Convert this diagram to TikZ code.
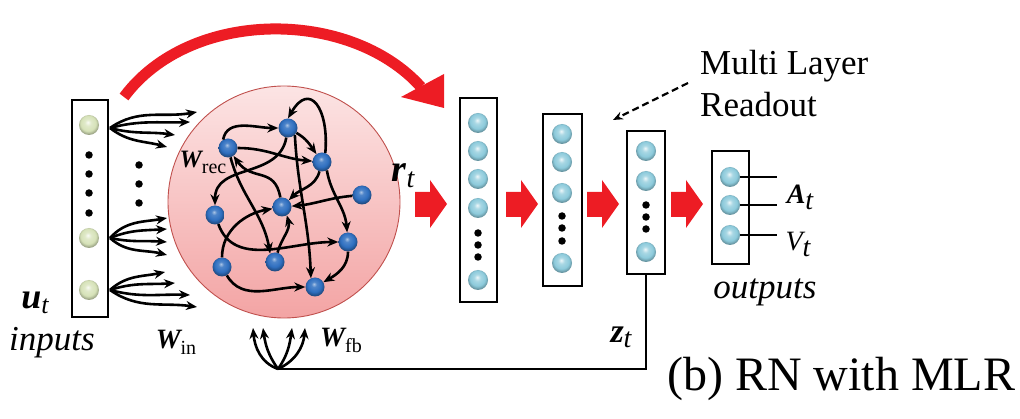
\documentclass[tikz,border=0pt]{standalone}
\usepackage{fontspec}
\setmainfont{Liberation Serif}
\usetikzlibrary{arrows.meta}
\definecolor{arrred}{HTML}{ED1C24}
\definecolor{gballc}{HTML}{D6E2B8}
\definecolor{cballc}{HTML}{8CCADB}
\definecolor{bballc}{HTML}{2F6FC0}
\definecolor{pinkT}{HTML}{FCE4E4}
\definecolor{pinkB}{HTML}{F3A4A4}
\definecolor{pinkE}{HTML}{C0504D}
\pgfdeclareradialshading{gball}{\pgfpoint{-3bp}{7bp}}{color(0bp)=(gballc!15!white); color(8bp)=(gballc!75!white); color(19bp)=(gballc); color(27bp)=(gballc!70!black); color(50bp)=(gballc!70!black)}
\pgfdeclareradialshading{cball}{\pgfpoint{-2bp}{7bp}}{color(0bp)=(cballc!15!white); color(8bp)=(cballc!75!white); color(19bp)=(cballc); color(27bp)=(cballc!70!black); color(50bp)=(cballc!70!black)}
\pgfdeclareradialshading{bball}{\pgfpoint{-3bp}{8bp}}{color(0bp)=(bballc!40!white); color(7bp)=(bballc!85!white); color(18bp)=(bballc); color(27bp)=(bballc!65!black); color(50bp)=(bballc!65!black)}
\newcommand{\sublbl}[5]{{\fontsize{#3}{#3}\selectfont\bfseries\itshape #1}\raisebox{#5}{\fontsize{#4}{#4}\selectfont\itshape #2}}
\newcommand{\wlbl}[3]{{\fontsize{#2}{#2}\selectfont\bfseries\itshape W}\raisebox{-6pt}{\fontsize{#3}{#3}\selectfont #1}}
\begin{document}
\begin{tikzpicture}[x=1pt,y=-1pt,
  lbox/.style={draw, line width=2.8pt, inner sep=0pt, fill=white},
  gnode/.style={circle, inner sep=0pt, minimum size=20pt, shading=gball},
  cnode/.style={circle, inner sep=0pt, minimum size=20pt, shading=cball},
  bnode/.style={circle, inner sep=0pt, minimum size=19pt, shading=bball},
  dotnode/.style={circle, fill=black, inner sep=0pt, minimum size=7.5pt},
  ed/.style={line width=2.6pt, -{Stealth[length=11pt,width=9pt]}},
  fan/.style={line width=2.6pt, -{Stealth[length=11pt,width=9pt]}},
  plain/.style={line width=2.8pt},
  txt/.style={inner sep=0pt}]
\useasboundingbox (0,0) rectangle (1020,419);

% big red curved arrow
\coordinate (bigA) at (124,97);
\coordinate (bigB) at (421,87);
\draw[arrred, line width=11pt] (bigA) .. controls (190,8) and (350,8) .. (bigB);
\fill[arrred] (444,74) -- (401,97) -- (444,108) -- cycle;

% reservoir
\node[circle, draw=pinkE, line width=0.9pt, top color=pinkT, bottom color=pinkB, minimum size=232pt, inner sep=0pt] (res) at (284,202) {};

% input box
\node[lbox, minimum width=36pt, minimum height=217pt] (inbox) at (90,208.5) {};
\node[gnode] (in1) at (89,125) {};
\node[gnode] (in2) at (89,238) {};
\node[gnode] (in3) at (89,290) {};
\foreach \y [count=\i] in {155,174,193,213} \node[dotnode] (ind\i) at (89,\y) {};
\foreach \y [count=\i] in {165,184,203} \node[dotnode] (md\i) at (139,\y) {};

% input fans
\coordinate (s1) at (110,128);
\coordinate (s2) at (110,238);
\coordinate (s3) at (110,290);
\foreach \ex/\ey/\o/\n [count=\i] in {197/112/35/190, 190/122/15/182, 175/135/-15/172, 167/147/-38/165}{
  \coordinate (e1\i) at (\ex,\ey);
  \draw[fan] (s1) to[out=\o,in=\n] (e1\i);}
\foreach \ex/\ey/\o/\n [count=\i] in {167/218/48/190, 167/229/22/184, 167/242/-12/176, 167/255/-42/166}{
  \coordinate (e2\i) at (\ex,\ey);
  \draw[fan] (s2) to[out=\o,in=\n] (e2\i);}
\foreach \ex/\ey/\o/\n [count=\i] in {165/272/42/192, 175/283/18/184, 190/295/-15/178, 197/307/-35/172}{
  \coordinate (e3\i) at (\ex,\ey);
  \draw[fan] (s3) to[out=\o,in=\n] (e3\i);}

% reservoir neurons
\node[bnode] (r1) at (228,148) {};
\node[bnode] (r2) at (288,128) {};
\node[bnode] (r3) at (322,162) {};
\node[bnode] (r4) at (215,215) {};
\node[bnode] (r5) at (282,207) {};
\node[bnode] (r6) at (362,195) {};
\node[bnode] (r7) at (348,242) {};
\node[bnode] (r8) at (222,267) {};
\node[bnode] (r9) at (275,262) {};
\node[bnode] (r10) at (315,287) {};

\draw[ed] (r1.120) to[out=80,in=180] (r2);
\draw[ed] (r1) to[out=0,in=175] (r3);
\draw[ed] (r2) to[out=-30,in=125] (r3);
\draw[ed] (r2) to[out=-100,in=90,looseness=1.1] (r4);
\draw[ed] (r3.70) to[out=85,in=60,looseness=2.2] (r2.north);
\draw[ed] (r2.-45) to[out=-87,in=92] (r10.115);
\draw[ed] (r3.-60) to[out=-80,in=95] (r7);
\draw[ed] (r3) to[out=-105,in=45] (r5);
\draw[ed] (r6) to[out=185,in=5] (r5);
\draw[ed] (r5) to[out=100,in=-55,looseness=1.3] (r1);
\draw[ed] (r1) to[out=-75,in=100] (r9.120);
\draw[ed] (r9) to[out=75,in=-75] (r5.-60);
\draw[ed] (r8) to[out=90,in=190] (r5);
\draw[ed] (r4) to[out=-70,in=180] (r7);
\draw[ed] (r8) to[out=-60,in=180] (r10);
\draw[ed] (r7) to[out=-90,in=30] (r10);

% block arrows
\foreach \dx [count=\i] in {0,91,172,256}{
  \fill[arrred, shift={(\dx,0)}] (415,192) -- (430,192) -- (430,180) -- (447,204) -- (430,228) -- (430,217) -- (415,217) -- cycle;}

% layer 1
\node[lbox, minimum width=37pt, minimum height=204pt] (L1) at (478.5,200) {};
\foreach \y [count=\i] in {123,151,179,208,280} \node[cnode] (a\i) at (478,\y) {};
\foreach \y [count=\i] in {233,245,257} \node[dotnode] (ad\i) at (478,\y) {};
% layer 2
\node[lbox, minimum width=39pt, minimum height=172pt] (L2) at (562.5,200) {};
\foreach \y [count=\i] in {134,162,193,263} \node[cnode] (b\i) at (562,\y) {};
\foreach \y [count=\i] in {216,228,241} \node[dotnode] (bd\i) at (562,\y) {};
% layer 3
\node[lbox, minimum width=38pt, minimum height=143pt] (L3) at (646,202.5) {};
\foreach \y [count=\i] in {151,181,252} \node[cnode] (c\i) at (646,\y) {};
\foreach \y [count=\i] in {205,217,229} \node[dotnode] (cd\i) at (646,\y) {};
% outputs
\node[lbox, minimum width=37pt, minimum height=113pt] (OB) at (730.5,207.5) {};
\node[cnode] (o1) at (730,177) {};
\node[cnode] (o2) at (730,205) {};
\node[cnode] (o3) at (730,235) {};
\coordinate (oe1) at (777,177);
\coordinate (oe2) at (777,205);
\coordinate (oe3) at (777,235);
\foreach \i in {1,2,3} \draw[line width=2.4pt] (o\i.east) -- (oe\i);

% feedback
\coordinate (fb) at (278,369);
\draw[plain] (L3.south) |- (fb);
\coordinate (t1) at (253,328);
\coordinate (t2) at (263,328);
\coordinate (t3) at (292,328);
\coordinate (t4) at (305,328);
\draw[fan] (fb) to[out=160,in=-85] (t1);
\draw[fan] (fb) to[out=125,in=-82] (t2);
\draw[fan] (fb) to[out=55,in=-98] (t3);
\draw[fan] (fb) to[out=25,in=-95] (t4);

% dashed pointer
\coordinate (mlrA) at (688,83);
\coordinate (mlrB) at (613,120);
\draw[line width=2.2pt, dash pattern=on 7pt off 4pt, -{Stealth[length=10pt,width=8pt]}] (mlrA) -- (mlrB);

% labels
\node[txt] (ut) at (35,303) {\sublbl{u}{t}{36}{26}{-5pt}};
\node[txt] (inputs) at (52,343) {\fontsize{35}{35}\selectfont\itshape inputs};
\node[txt] (win) at (176,342) {\wlbl{in}{28}{20}};
\node[txt] (wrec) at (203,162) {\wlbl{rec}{25}{20}};
\node[txt] (wfb) at (341,340) {\wlbl{fb}{28}{20}};
\node[txt] (rt) at (403,176) {\sublbl{r}{t}{38}{28}{-6pt}};
\node[txt] (zt) at (621,337) {\sublbl{z}{t}{34}{28}{-5pt}};
\node[txt] (At) at (800,197) {\sublbl{A}{t}{28}{28}{-6pt}};
\node[txt] (Vt) at (798,244) {{\fontsize{28}{28}\selectfont\itshape V}\raisebox{-6pt}{\fontsize{28}{28}\selectfont\itshape t}};
\node[txt] (outputs) at (765,292) {\fontsize{35}{35}\selectfont\itshape outputs};
\node[txt, anchor=base west] (mlr1) at (700,75) {\fontsize{35}{35}\selectfont Multi Layer};
\node[txt, anchor=base west] (mlr2) at (700,117) {\fontsize{35}{35}\selectfont Readout};
\node[txt, anchor=base west] (title) at (667,391) {\fontsize{48}{48}\selectfont (b) RN with MLR};
\end{tikzpicture}
\end{document}
